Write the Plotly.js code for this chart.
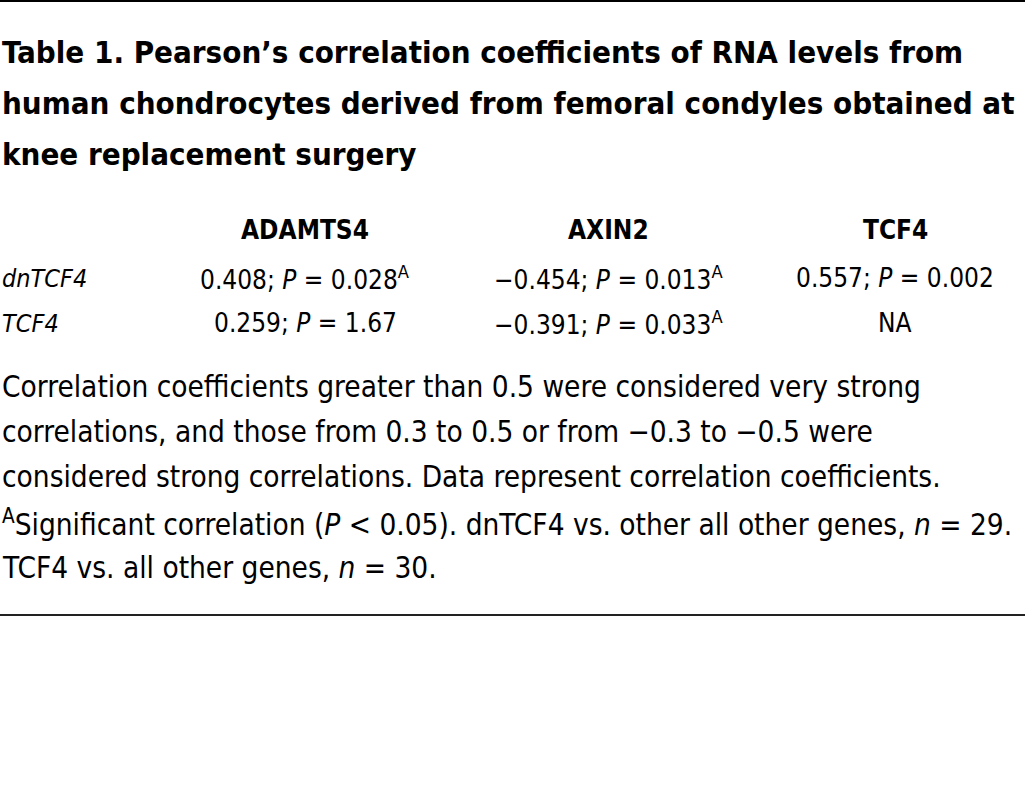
<!DOCTYPE html>
<html>
<head>
<meta charset="utf-8">
<script src="https://cdn.plot.ly/plotly-3.0.1.min.js"></script>
<style>html,body{margin:0;padding:0;background:#fff;}#chart{width:1025px;height:799px;}</style>
</head>
<body>
<div id="chart"></div>
<script>
// ---- data ----
const titleLines = [
  "Table 1. Pearson\u2019s correlation coefficients of RNA levels from",
  "human chondrocytes derived from femoral condyles obtained at",
  "knee replacement surgery"
];
const columns = ["ADAMTS4", "AXIN2", "TCF4"];
const rowLabels = ["dnTCF4", "TCF4"];
const rValues = [
  [0.408, -0.454, 0.557],
  [0.259, -0.391, null]
];
const pValues = [
  ["0.028", "0.013", "0.002"],
  ["1.67", "0.033", null]
];
const significant = [
  [true, true, false],
  [false, true, false]
];
const footnoteLines = [
  "Correlation coefficients greater than 0.5 were considered very strong",
  "correlations, and those from 0.3 to 0.5 or from \u22120.3 to \u22120.5 were",
  "considered strong correlations. Data represent correlation coefficients.",
  "<sup>A</sup>Significant correlation (<i>P</i> &lt; 0.05). dnTCF4 vs. other all other genes, <i>n</i> = 29.",
  "TCF4 vs. all other genes, <i>n</i> = 30."
];

// ---- layout ----
const FONT = '"DejaVu Sans Condensed", "Liberation Sans Narrow", "Roboto Condensed", "DejaVu Sans", sans-serif';
const colX = [305, 608, 895];
const titleY = [52, 103, 154];
const headerY = 230;
const rowY = [278, 323];
const footY = [387, 432, 477, 523, 568];

function fmtR(v) {
  return (v < 0 ? "\u2212" : "") + Math.abs(v).toFixed(3);
}

const ann = [];
titleLines.forEach((t, i) => ann.push({
  text: "<b>" + t + "</b>", x: 0, y: titleY[i], xref: "x", yref: "y",
  xanchor: "left", yanchor: "middle", showarrow: false,
  font: {family: FONT, size: 31, color: "#000"}
}));
columns.forEach((c, j) => ann.push({
  text: "<b>" + c + "</b>", x: colX[j], y: headerY, xref: "x", yref: "y",
  xanchor: "center", yanchor: "middle", showarrow: false,
  font: {family: FONT, size: 26, color: "#000"}
}));
rowLabels.forEach((r, i) => {
  ann.push({
    text: "<i>" + r + "</i>", x: 0, y: rowY[i], xref: "x", yref: "y",
    xanchor: "left", yanchor: "middle", showarrow: false,
    font: {family: FONT, size: 25, color: "#000"}
  });
  columns.forEach((c, j) => {
    const v = rValues[i][j];
    const txt = v === null ? "NA" :
      fmtR(v) + "; <i>P</i> = " + pValues[i][j] + (significant[i][j] ? "<sup>A</sup>" : "");
    ann.push({
      text: txt, x: colX[j], y: rowY[i], xref: "x", yref: "y",
      xanchor: "center", yanchor: "middle", showarrow: false,
      font: {family: FONT, size: 26, color: "#000"}
    });
  });
});
footnoteLines.forEach((t, i) => ann.push({
  text: t, x: 0, y: footY[i], xref: "x", yref: "y",
  xanchor: "left", yanchor: "middle", showarrow: false,
  font: {family: FONT, size: 29.5, color: "#000"}
}));

const layout = {
  width: 1025, height: 799,
  margin: {l: 0, r: 0, t: 0, b: 0, pad: 0},
  paper_bgcolor: "#fff", plot_bgcolor: "#fff",
  showlegend: false,
  xaxis: {range: [0, 1025], visible: false, fixedrange: true},
  yaxis: {range: [799, 0], visible: false, fixedrange: true},
  annotations: ann,
  shapes: [
    {type: "line", xref: "paper", yref: "y", x0: 0, x1: 1, y0: 1, y1: 1, line: {color: "#000", width: 2}},
    {type: "line", xref: "paper", yref: "y", x0: 0, x1: 1, y0: 615, y1: 615, line: {color: "#222", width: 2}}
  ]
};

Plotly.newPlot("chart", [], layout, {staticPlot: true, displayModeBar: false});
</script>
</body>
</html>
